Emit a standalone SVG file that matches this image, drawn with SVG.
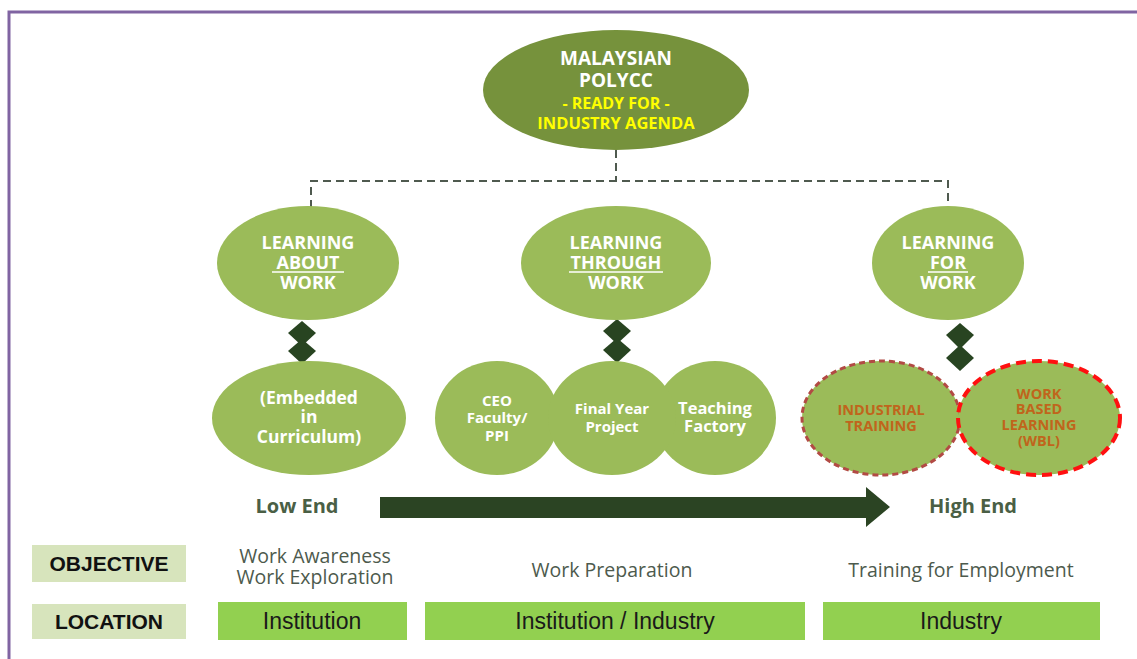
<svg xmlns="http://www.w3.org/2000/svg" width="1137" height="659" viewBox="0 0 1137 659">
<style>
.w{fill:#fff;font-family:"Open Sans","Noto Sans",sans-serif;font-weight:bold;text-anchor:middle}
.y{fill:#ffff00;font-family:"Open Sans","Noto Sans",sans-serif;font-weight:bold;text-anchor:middle}
.o{fill:#c0651c;font-family:"Open Sans","Noto Sans",sans-serif;font-weight:bold;text-anchor:middle;font-size:14.5px}
.g{fill:#9bbb59}
.dia{fill:#284421}
.end{fill:#4a5f45;font-family:"Open Sans","Noto Sans",sans-serif;font-weight:bold;font-size:20px;text-anchor:middle}
.obj{fill:#4d5a4d;font-family:"Open Sans","Noto Sans",sans-serif;font-size:19.5px;text-anchor:middle}
.lab{fill:#d7e4bc}
.labt{fill:#111;font-family:"Liberation Sans",Arial,sans-serif;font-weight:bold;font-size:21px;text-anchor:middle}
.loc{fill:#92d050}
.loct{fill:#1a1a1a;font-family:"Liberation Sans",Arial,sans-serif;font-size:23px;text-anchor:middle}
</style>
<rect width="1137" height="659" fill="#fff"/>
<path d="M9,659 V12 H1137" fill="none" stroke="#8064a2" stroke-width="3"/>
<g id="connectors">
<path d="M616,150 V181 M311,208 V181 H948 V208" fill="none" stroke="#4f5a4f" stroke-width="2" stroke-dasharray="8,5"/>
<g class="dia">
<polygon points="302,321 316,333 302,346 288,333"/>
<polygon points="302,339 316,351 302,364 288,351"/>
<polygon points="617,319 631,331 617,344 603,331"/>
<polygon points="617,338 631,350 617,363 603,350"/>
<polygon points="960,323 974,335 960,349 946,335"/>
<polygon points="960,345 974,358 960,371 946,358"/>
</g>
<polygon points="380,497 866,497 866,487 890,507 866,527 866,518 380,518" fill="#2b4423"/>
</g>
<g id="top">
<ellipse cx="616" cy="90" rx="133" ry="60" fill="#76923c"/>
<text class="w" x="616" y="65" font-size="19">MALAYSIAN</text>
<text class="w" x="616" y="87" font-size="19">POLYCC</text>
<text class="y" x="616" y="109" font-size="16">- READY FOR -</text>
<text class="y" x="616" y="129" font-size="16.5">INDUSTRY AGENDA</text>
</g>
<g id="about">
<ellipse class="g" cx="308" cy="263" rx="91" ry="57"/>
<text class="w" x="308" y="249" font-size="18">LEARNING</text>
<text class="w" x="308" y="269" font-size="18">ABOUT</text>
<line x1="272" y1="272" x2="344" y2="272" stroke="#fff" stroke-width="1.3"/>
<text class="w" x="308" y="289" font-size="18">WORK</text>
</g>
<g id="through">
<ellipse class="g" cx="616" cy="263" rx="95" ry="57"/>
<text class="w" x="616" y="249" font-size="18">LEARNING</text>
<text class="w" x="616" y="269" font-size="18">THROUGH</text>
<line x1="569" y1="272" x2="663" y2="272" stroke="#fff" stroke-width="1.3"/>
<text class="w" x="616" y="289" font-size="18">WORK</text>
</g>
<g id="for">
<ellipse class="g" cx="948" cy="263" rx="76" ry="57"/>
<text class="w" x="948" y="249" font-size="18">LEARNING</text>
<text class="w" x="948" y="269" font-size="18">FOR</text>
<line x1="928" y1="272" x2="968" y2="272" stroke="#fff" stroke-width="1.3"/>
<text class="w" x="948" y="289" font-size="18">WORK</text>
</g>
<g id="embedded">
<ellipse class="g" cx="309" cy="418" rx="97" ry="57"/>
<text class="w" x="309" y="404" font-size="17.5">(Embedded</text>
<text class="w" x="309" y="423" font-size="17.5">in</text>
<text class="w" x="309" y="443" font-size="17.5">Curriculum)</text>
</g>
<g id="ceo">
<ellipse class="g" cx="497" cy="418" rx="62" ry="57"/>
<text class="w" x="497" y="406" font-size="15">CEO</text>
<text class="w" x="497" y="423" font-size="15">Faculty/</text>
<text class="w" x="497" y="441" font-size="15">PPI</text>
</g>
<g id="teaching">
<ellipse class="g" cx="715" cy="418" rx="61" ry="57"/>
<text class="w" x="715" y="414" font-size="16.5">Teaching</text>
<text class="w" x="715" y="432" font-size="16.5">Factory</text>
</g>
<g id="fyp">
<ellipse class="g" cx="612" cy="418" rx="64" ry="57"/>
<text class="w" x="612" y="414" font-size="15">Final Year</text>
<text class="w" x="612" y="432" font-size="15">Project</text>
</g>
<g id="industrial">
<ellipse class="g" cx="881" cy="418" rx="79" ry="57" stroke="#b24a44" stroke-width="3" stroke-dasharray="6,4"/>
<text class="o" x="881" y="415">INDUSTRIAL</text>
<text class="o" x="881" y="431">TRAINING</text>
</g>
<g id="wbl">
<ellipse class="g" cx="1039" cy="418" rx="81" ry="57" stroke="#ff1010" stroke-width="4" stroke-dasharray="10,6"/>
<text class="o" x="1039" y="399">WORK</text>
<text class="o" x="1039" y="414">BASED</text>
<text class="o" x="1039" y="430">LEARNING</text>
<text class="o" x="1039" y="446">(WBL)</text>
</g>
<g id="ends">
<text class="end" x="297" y="513">Low End</text>
<text class="end" x="973" y="513">High End</text>
</g>
<g id="objective">
<rect class="lab" x="32" y="545" width="154" height="37"/>
<text class="labt" x="109" y="571">OBJECTIVE</text>
<text class="obj" x="315" y="563">Work Awareness</text>
<text class="obj" x="315" y="584">Work Exploration</text>
<text class="obj" x="612" y="577">Work Preparation</text>
<text class="obj" x="961" y="577">Training for Employment</text>
</g>
<g id="location">
<rect class="lab" x="32" y="604" width="154" height="35"/>
<text class="labt" x="109" y="629">LOCATION</text>
<rect class="loc" x="218" y="602" width="189" height="38"/>
<text class="loct" x="312" y="629">Institution</text>
<rect class="loc" x="425" y="602" width="380" height="38"/>
<text class="loct" x="615" y="629">Institution / Industry</text>
<rect class="loc" x="823" y="602" width="277" height="38"/>
<text class="loct" x="961" y="629">Industry</text>
</g>
</svg>
